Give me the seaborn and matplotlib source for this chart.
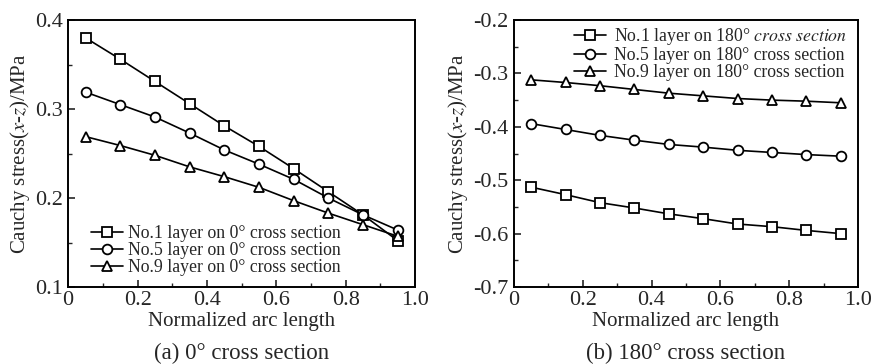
import pandas as pd
import matplotlib.pyplot as plt
import seaborn as sns
from matplotlib.ticker import MultipleLocator

# normalized arc length positions
arc = [0.05, 0.15, 0.25, 0.35, 0.45, 0.55, 0.65, 0.75, 0.85, 0.95]

# (a) 0 deg cross section
sec0_no1 = [0.380, 0.356, 0.331, 0.306, 0.281, 0.258, 0.233, 0.207, 0.181, 0.152]
sec0_no5 = [0.319, 0.305, 0.291, 0.273, 0.254, 0.238, 0.221, 0.200, 0.181, 0.164]
sec0_no9 = [0.269, 0.259, 0.248, 0.235, 0.224, 0.212, 0.197, 0.183, 0.170, 0.157]

# (b) 180 deg cross section
sec180_no1 = [-0.513, -0.527, -0.542, -0.552, -0.563, -0.572, -0.582, -0.587, -0.594, -0.600]
sec180_no5 = [-0.394, -0.405, -0.416, -0.425, -0.433, -0.438, -0.444, -0.448, -0.452, -0.455]
sec180_no9 = [-0.312, -0.317, -0.323, -0.330, -0.337, -0.342, -0.347, -0.350, -0.352, -0.355]

labels0 = ["No.1 layer on 0° cross section",
           "No.5 layer on 0° cross section",
           "No.9 layer on 0° cross section"]
labels180 = [r"No.1 layer on 180° $\mathit{cross\ section}$",
             "No.5 layer on 180° cross section",
             "No.9 layer on 180° cross section"]
markers = ["s", "o", "^"]

sns.set_style("ticks")
plt.rcParams["font.family"] = ["Liberation Serif", "DejaVu Serif"]
plt.rcParams["mathtext.fontset"] = "stix"
plt.rcParams["axes.unicode_minus"] = False
plt.rcParams["xtick.direction"] = "in"
plt.rcParams["ytick.direction"] = "in"

fig = plt.figure(figsize=(8.74, 3.64), dpi=100)
ax1 = fig.add_axes([0.078, 0.2115, 0.397, 0.7335])
ax2 = fig.add_axes([0.588, 0.2115, 0.3936, 0.7335])


def draw(ax, series, labels):
    for vals, lab, m in zip(series, labels, markers):
        df = pd.DataFrame({"x": arc, "y": vals})
        sns.lineplot(data=df, x="x", y="y", ax=ax, color="black", lw=1.2,
                     marker=m, markersize=7 if m != "^" else 6.5,
                     markerfacecolor="white", markeredgecolor="black",
                     markeredgewidth=1.3, label=lab)
    ax.set_xlim(0, 1.0)
    ax.xaxis.set_major_locator(MultipleLocator(0.2))
    ax.xaxis.set_minor_locator(MultipleLocator(0.1))
    ax.xaxis.set_major_formatter(lambda v, p: "0" if abs(v) < 1e-9 else f"{v:.1f}")
    ax.tick_params(which="major", length=5, width=1.2, labelsize=16)
    ax.tick_params(axis="x", which="major", pad=3)
    ax.tick_params(axis="y", which="major", pad=4)
    ax.tick_params(which="minor", length=3, width=1.0)
    for s in ax.spines.values():
        s.set_linewidth(1.4)
        s.set_color("black")
    ax.set_xlabel("Normalized arc length", fontsize=15, labelpad=1)
    ax.set_ylabel(r"Cauchy stress($x$-$z$)/MPa", fontsize=15, labelpad=2)


draw(ax1, [sec0_no1, sec0_no5, sec0_no9], labels0)
ax1.set_ylim(0.1, 0.4)
ax1.yaxis.set_major_locator(MultipleLocator(0.1))
ax1.yaxis.set_minor_locator(MultipleLocator(0.05))
ax1.legend(loc="lower left", bbox_to_anchor=(0.035, 0.0), frameon=False,
           fontsize=12.8, handlelength=1.8, handletextpad=0.3,
           labelspacing=0.0, borderaxespad=0.2)

draw(ax2, [sec180_no1, sec180_no5, sec180_no9], labels180)
ax2.set_ylim(-0.7, -0.2)
ax2.yaxis.set_major_locator(MultipleLocator(0.1))
ax2.yaxis.set_minor_locator(MultipleLocator(0.05))
ax2.legend(loc="upper right", bbox_to_anchor=(0.995, 1.01), frameon=False,
           fontsize=12.8, handlelength=1.8, handletextpad=0.45,
           labelspacing=0.0, borderaxespad=0.1)

fig.text(0.078 + 0.397 / 2, 0.0, "(a) 0° cross section", ha="center", va="bottom", fontsize=16.5)
fig.text(0.588 + 0.3936 / 2, 0.0, "(b) 180° cross section", ha="center", va="bottom", fontsize=16.5)

fig.savefig("out.png", dpi=100)
